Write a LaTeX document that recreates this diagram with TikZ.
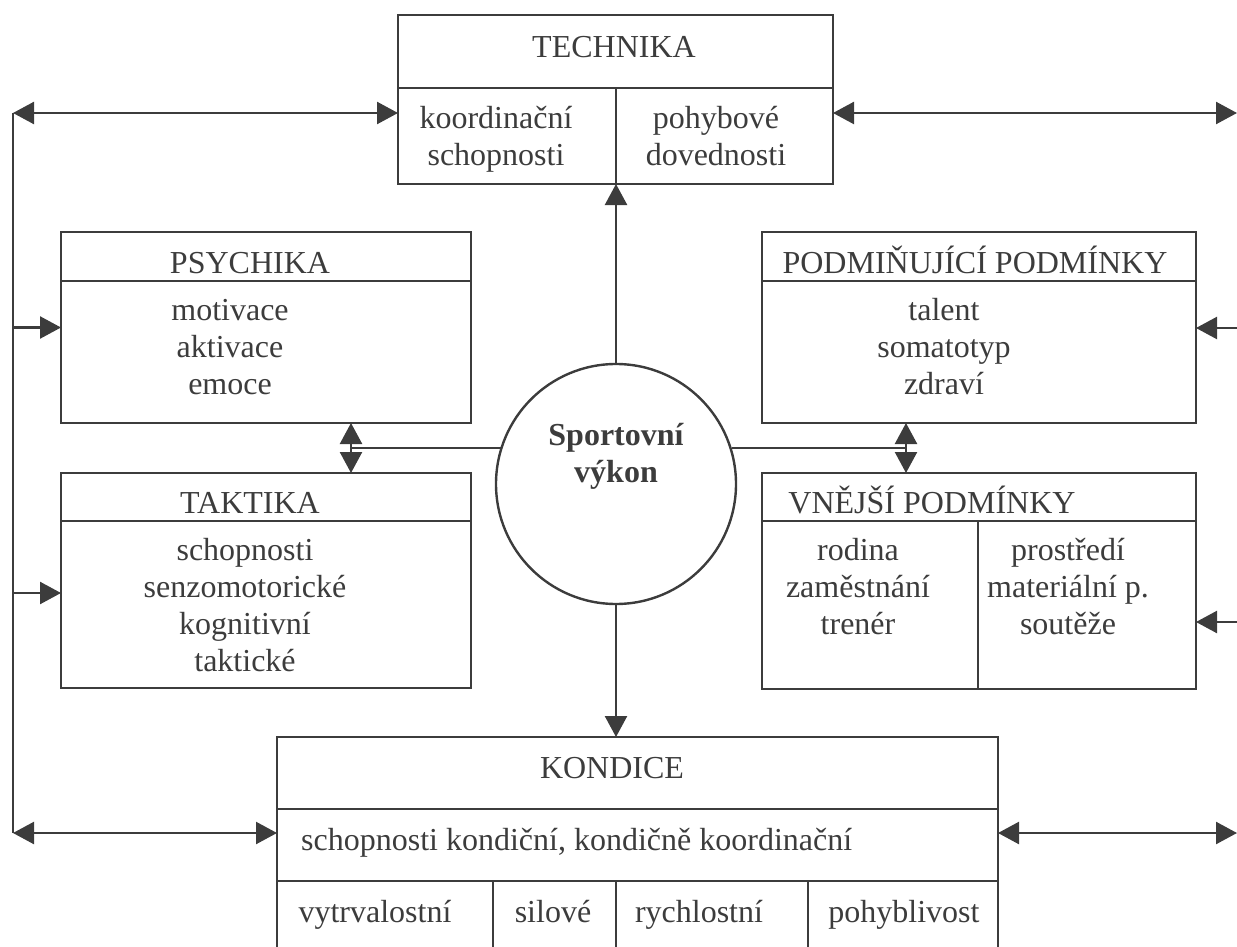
\documentclass[tikz,border=0pt]{standalone}
\usepackage{fontspec}
\setmainfont{Liberation Serif}
\usetikzlibrary{arrows.meta}
\definecolor{ink}{HTML}{3C3C3C}

\begin{document}
\begin{tikzpicture}[x=0.5pt, y=-0.5pt, color=ink, line width=1.2pt,
  >={Triangle[length=10.5pt,width=11pt]},
  box/.style={draw, rectangle, inner sep=0pt, outer sep=0pt},
  lbl/.style={font=\fontsize{16}{18.5}\selectfont, align=center, inner sep=0pt, anchor=base},
  lblw/.style={font=\fontsize{16}{18.5}\selectfont, inner sep=0pt, anchor=base west}]

\useasboundingbox (0,0) rectangle (1237,947);
\clip (0,0) rectangle (1237,947);

% main boxes
\node[box, minimum width=217.5pt, minimum height=84.5pt] (tech) at (615.5,99.5) {};
\node[box, minimum width=205pt,   minimum height=95.5pt] (psy)  at (266,327.5) {};
\node[box, minimum width=205pt,   minimum height=107.5pt] (tak) at (266,580.5) {};
\node[box, minimum width=217pt,   minimum height=95.5pt] (pod)  at (979,327.5) {};
\node[box, minimum width=217pt,   minimum height=108pt]  (vne)  at (979,581) {};
\node[box, minimum width=360.5pt, minimum height=131.5pt] (kon) at (637.5,868.5) {};
\node[draw, circle, minimum size=120pt, inner sep=0pt] (sv) at (616,484) {};

% inner divisions of the boxes
\draw (398,88) -- (833,88);
\draw (616,88) -- (616,184);
\draw (61,281) -- (471,281);
\draw (61,521) -- (471,521);
\draw (762,281) -- (1196,281);
\draw (762,521) -- (1196,521);
\draw (978,521) -- (978,689);
\draw (277,809) -- (998,809);
\draw (277,881) -- (998,881);
\draw (493,881) -- (493,1000);
\draw (616,881) -- (616,1000);
\draw (808,881) -- (808,1000);

% texts (multi-line nodes sit on the baseline of their last line)
\node[lbl] (t1) at (614,58) {TECHNIKA};
\node[lbl] (t2) at (496,165) {koordinační\\schopnosti};
\node[lbl] (t3) at (716,165) {pohybové\\dovednosti};
\node[lbl] (p1) at (250,273) {PSYCHIKA};
\node[lbl] (p2) at (230,394) {motivace\\aktivace\\emoce};
\node[lbl] (k1) at (250,513) {TAKTIKA};
\node[lbl] (k2) at (245,671) {schopnosti\\senzomotorické\\kognitivní\\taktické};
\node[lbl] (d1) at (975,273) {PODMIŇUJÍCÍ PODMÍNKY};
\node[lbl] (d2) at (944,394) {talent\\somatotyp\\zdraví};
\node[lbl] (v1) at (932,513) {VNĚJŠÍ PODMÍNKY};
\node[lbl] (v2) at (858,634) {rodina\\zaměstnání\\trenér};
\node[lbl] (v3) at (1068,634) {prostředí\\materiální p.\\soutěže};
\node[lbl, font=\fontsize{16}{18.5}\selectfont\bfseries] (s1) at (616,482) {Sportovní\\výkon};
\node[lbl] (c1) at (612,778) {KONDICE};
\node[lblw] (c2) at (300,850) {schopnosti kondiční, kondičně koordinační};
\node[lbl] (c3) at (375,922) {vytrvalostní};
\node[lbl] (c4) at (553,922) {silové};
\node[lbl] (c5) at (699,922) {rychlostní};
\node[lbl] (c6) at (904,922) {pohyblivost};

% frame corners and junctions
\coordinate (lt) at (13,113);
\coordinate (lb) at (13,833);
\coordinate (lk) at (13,593);
\coordinate (rt) at (1237,113);
\coordinate (rp) at (1237,328);
\coordinate (rv) at (1237,622);
\coordinate (rb) at (1237,833);
\coordinate (dl) at (351,448);
\coordinate (dr) at (906,448);

% connectors on the left
\draw (lt) -- (lb);
\draw[<->] (lt) -- (lt -| tech.west);
\draw[->] (psy.west -| lt) -- (psy.west);
\draw[->] (lk) -- (lk -| tak.west);
\draw[<->] (lb) -- (lb -| kon.west);

% connectors on the right
\draw[<->] (rt -| tech.east) -- (rt);
\draw[->] (rp) -- (rp -| pod.east);
\draw[->] (rv) -- (rv -| vne.east);
\draw[<->] (rb -| kon.east) -- (rb);

% connectors from the centre
\draw[->] (sv.north) -- (sv.north |- tech.south);
\draw[->] (sv.south) -- (sv.south |- kon.north);
\draw (sv.162.5 |- dl) -- (dl);
\draw (sv.17.5 |- dr) -- (dr);
\draw[<->] (dl |- psy.south) -- (dl |- tak.north);
\draw[<->] (dr |- pod.south) -- (dr |- vne.north);
\end{tikzpicture}
\end{document}
